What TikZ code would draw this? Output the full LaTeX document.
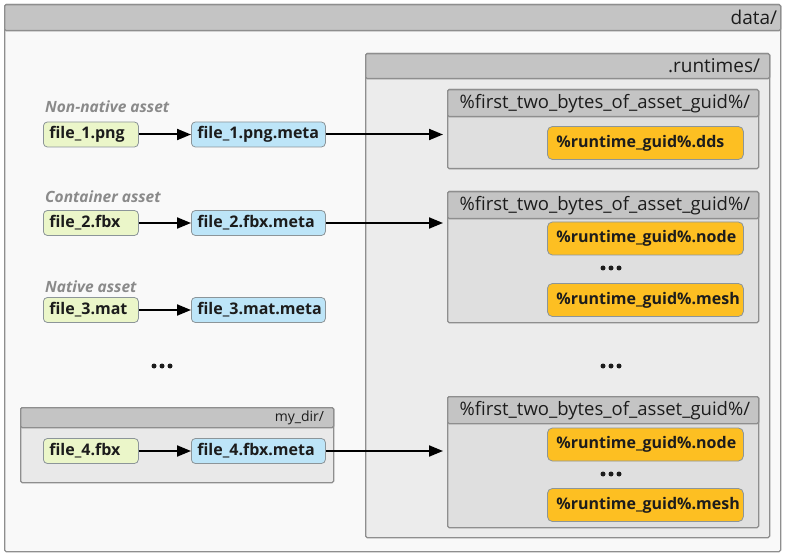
\documentclass[tikz,border=0pt]{standalone}
\usepackage{fontspec}
\setmainfont{Open Sans}
\usetikzlibrary{arrows.meta,positioning,calc}

\definecolor{frame}{HTML}{8E8E8E}
\definecolor{headgray}{HTML}{C4C4C4}
\definecolor{outerbg}{HTML}{F9F9F9}
\definecolor{runbg}{HTML}{ECECEC}
\definecolor{grpbg}{HTML}{DFDFDF}
\definecolor{subbg}{HTML}{E9E9E9}
\definecolor{srcgreen}{HTML}{EBF6C9}
\definecolor{metablue}{HTML}{BDE5F8}
\definecolor{rtorange}{HTML}{FDBF22}
\definecolor{nodeline}{HTML}{8C9599}
\definecolor{ink}{HTML}{1C1C1C}
\definecolor{labelgray}{HTML}{8A8A8A}

\tikzset{
  dir/.style={draw=frame,fill=#1,line width=1.3pt,rounded corners=1.5pt,
    anchor=north west,inner sep=0pt},
  dirhead/.style={draw=frame,fill=headgray,line width=1.3pt,rounded corners=1.5pt,
    anchor=north west,inner sep=0pt},
  headtext/.style={anchor=east,inner sep=0pt,text=ink,font=\fontsize{19}{21}\selectfont},
  file/.style={draw=nodeline,fill=#1,rounded corners=4pt,line width=0.8pt,
    text=ink,font=\fontsize{16}{18}\selectfont\bfseries,align=left,
    inner xsep=6pt,inner ysep=0pt,minimum height=25,anchor=west},
  rt/.style={draw=nodeline,fill=rtorange,rounded corners=5pt,line width=0.8pt,
    text=ink,font=\fontsize{16}{18}\selectfont\bfseries,align=left,
    text width=178,inner xsep=9pt,inner ysep=0pt,minimum height=33,anchor=west},
  kind/.style={anchor=west,inner sep=0pt,text=labelgray,
    font=\fontsize{15.5}{17}\selectfont\bfseries\itshape},
  arr/.style={-{Triangle[length=14pt,width=11pt]},line width=2pt,draw=black},
}

\begin{document}
\begin{tikzpicture}[x=1pt,y=-1pt]
\useasboundingbox (0,0) rectangle (785,556);

\node (data) [dir=outerbg,minimum width=776,minimum height=547] at (4,4) {};
\node (datahead) [dirhead,minimum width=776,minimum height=26] at (4,4) {};
\node (datalbl) [headtext] at ($(datahead.east)+(-4,0)$) {data/};

\node (runtimes) [dir=runbg,minimum width=404,minimum height=484] at (365,53) {};
\node (rthead) [dirhead,minimum width=404,minimum height=25] at (365,53) {};
\node (rtlbl) [headtext] at ($(rthead.east)+(-10,0)$) {.runtimes/};

\foreach \n/\y/\h in {1/89/79,2/191/131,3/396/131} {
  \node (grp\n) [dir=grpbg,minimum width=311,minimum height=\h] at (447,\y) {};
  \node (grp\n head) [dirhead,minimum width=311,minimum height=27] at (447,\y) {};
  \node (grp\n lbl) [headtext,font=\fontsize{18.5}{20}\selectfont]
    at ($(grp\n head.east)+(-9,0)$) {\%first\_two\_bytes\_of\_asset\_guid\%/};
}

\node (dds) [rt] at (547,143) {\%runtime\_guid\%.dds};
\node (node2) [rt] at (547,238.5) {\%runtime\_guid\%.node};
\node (mesh2) [rt] at (547,300) {\%runtime\_guid\%.mesh};
\node (node3) [rt] at (547,444.5) {\%runtime\_guid\%.node};
\node (mesh3) [rt] at (547,505) {\%runtime\_guid\%.mesh};

\node (mydir) [dir=subbg,minimum width=313,minimum height=75] at (20,407) {};
\node (mydirhead) [dirhead,minimum width=313,minimum height=20] at (20,407) {};
\node (mydirlbl) [headtext,font=\fontsize{14}{16}\selectfont]
  at ($(mydirhead.east)+(-10,0)$) {my\_dir/};

\foreach \y/\t in {107/Non-native asset,197/Container asset,286.5/Native asset}
  \node [kind] at (45,\y) {\t};

\foreach \i/\y/\e in {1/134.5/png,2/223/fbx,3/310/mat,4/451/fbx} {
  \node (src\i) [file=srcgreen,text width=83] at (43,\y) {file\_\i.\e};
  \node (meta\i) [file=metablue,text width=122] at (191,\y) {file\_\i.\e.meta};
  \draw [arr] (src\i) -- (meta\i);
}

\foreach \x/\y in {162/366,611/366,611/268,611/474}
  \foreach \d in {-8,0,8}
    \fill [ink] (\x+\d,\y) circle (2.5);

\draw [arr,shorten >=4pt] (meta1.east) -- (meta1.east -| grp1.west);
\draw [arr,shorten >=4pt] (meta2.east) -- (meta2.east -| grp2.west);
\draw [arr,shorten >=4pt] (meta4.east) -- (meta4.east -| grp3.west);
\end{tikzpicture}
\end{document}
